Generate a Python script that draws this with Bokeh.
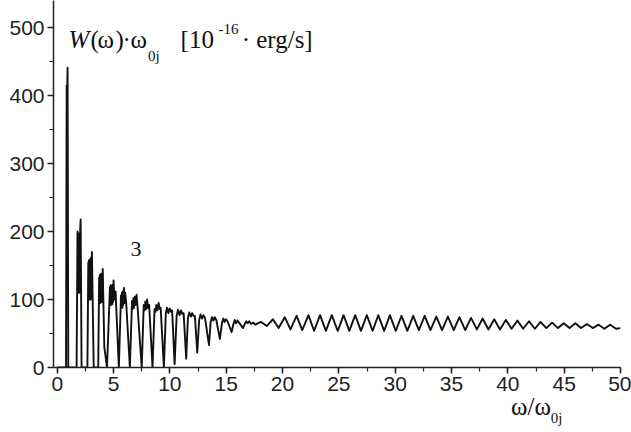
from bokeh.plotting import figure
from bokeh.models import Label, ColumnDataSource, SingleIntervalTicker, Range1d, Div
from bokeh.layouts import column
from bokeh.embed import file_html
from bokeh.resources import INLINE

# ---- data: omega/omega_0j and W(omega)*omega_0j [1e-16 erg/s]
omega_spike = [0.0, 0.78, 0.84, 0.87, 0.92, 0.98, 1.10]
w_spike = [0, 0, 415, 390, 441, 0, 0]

omega_fast = [1.72, 1.80, 1.83, 1.86, 1.89, 1.92, 1.95, 1.98, 2.01, 2.04, 2.08, 2.16, 2.68,
              2.76, 2.79, 2.82, 2.85, 2.88, 2.91, 2.94, 2.97, 3.00, 3.03, 3.08, 3.24, 3.64,
              3.72, 3.75, 3.78, 3.81, 3.84, 3.87, 3.90, 3.93, 3.96, 3.99, 4.04, 4.18, 4.42,
              4.68, 4.71, 4.74, 4.77, 4.80, 4.83, 4.86, 4.89, 4.92, 4.95, 5.00, 5.08, 5.18, 5.47]
w_fast = [0, 200, 110, 196, 112, 192, 110, 198, 112, 204, 218, 0, 0,
          155, 102, 158, 100, 156, 103, 160, 100, 162, 104, 170, 0, 0,
          132, 97, 136, 95, 134, 98, 138, 96, 136, 100, 145, 30, 0,
          118, 94, 121, 92, 120, 95, 119, 93, 122, 96, 128, 100, 112, 0]

omega_bands = [5.66, 5.70, 5.74, 5.78, 5.82, 5.86, 5.92, 5.98, 6.04, 6.12, 6.45,
               6.64, 6.70, 6.76, 6.82, 6.88, 6.96, 7.04, 7.12, 7.50,
               7.68, 7.75, 7.82, 7.90, 7.98, 8.06, 8.16, 8.46,
               8.64, 8.72, 8.80, 8.90, 9.00, 9.10, 9.18, 9.47,
               9.64, 9.74, 9.86, 9.98, 10.10, 10.20, 10.42,
               10.60, 10.72, 10.86, 10.98, 11.10, 11.22, 11.45,
               11.60, 11.72, 11.86, 11.98, 12.10, 12.22, 12.43,
               12.60, 12.72, 12.86, 12.98, 13.12, 13.47,
               13.62, 13.74, 13.86, 13.98, 14.12, 14.44,
               14.62, 14.74, 14.86, 14.98, 15.12, 15.48,
               15.64, 15.76, 15.88, 16.00, 16.14, 16.49,
               16.64, 16.78, 16.90, 17.04, 17.20, 17.40, 17.60, 17.80]
w_bands = [106, 90, 110, 88, 112, 92, 117, 95, 110, 96, 0,
           98, 86, 102, 88, 104, 92, 107, 92, 0,
           92, 84, 97, 86, 100, 88, 92, 0,
           86, 82, 92, 84, 95, 86, 88, 0,
           80, 88, 80, 87, 82, 84, 5,
           76, 85, 77, 84, 79, 80, 13,
           73, 81, 75, 80, 76, 76, 22,
           70, 78, 72, 77, 73, 33,
           67, 74, 69, 74, 70, 42,
           65, 72, 67, 71, 68, 52,
           64, 70, 65, 69, 66, 58,
           64, 68, 65, 68, 64, 66, 63, 65]

omega_tail = [18.10, 18.60, 19.15, 19.65, 20.20, 20.70, 21.25, 21.75, 22.30, 22.80,
              23.33, 23.85, 24.37, 24.90, 25.42, 25.93, 26.45, 26.96, 27.48, 28.00,
              28.50, 29.02, 29.53, 30.05, 30.56, 31.08, 31.60, 32.10, 32.62, 33.13,
              33.65, 34.16, 34.68, 35.20, 35.70, 36.22, 36.73, 37.25, 37.76, 38.28,
              38.79, 39.30, 39.82, 40.33, 40.85, 41.36, 41.88, 42.40, 42.90, 43.42,
              43.93, 44.45, 44.96, 45.48, 45.99, 46.50, 47.02, 47.54, 48.05, 48.57,
              49.08, 49.60, 50.00]
w_tail = [67, 61, 71, 58, 74, 56, 76, 55, 77, 54,
          77, 54, 77, 54, 77, 54, 77, 54, 77, 54,
          77, 54, 77, 54, 76, 54, 76, 55, 76, 55,
          75, 55, 75, 55, 74, 55, 73, 56, 72, 56,
          71, 56, 70, 57, 69, 57, 68, 57, 67, 58,
          66, 58, 65, 58, 65, 58, 64, 58, 63, 57,
          63, 57, 58]

x_ticks_interval = 5
y_ticks_interval = 100

omega = omega_spike + omega_fast + omega_bands + omega_tail
w = w_spike + w_fast + w_bands + w_tail
src = ColumnDataSource(data=dict(omega=omega, w=w))

p = figure(frame_width=567, frame_height=367, min_border_left=53, min_border_right=11,
           min_border_top=0, min_border_bottom=32, title=None,
           x_range=Range1d(-0.33, 50), y_range=Range1d(0, 540),
           output_backend="svg", toolbar_location=None, tools="")
p.outline_line_color = None
p.xgrid.visible = False
p.ygrid.visible = False
p.background_fill_color = "white"
p.border_fill_color = "white"

p.line("omega", "w", source=src, line_color="#111111", line_width=1.9, line_join="round")

p.xaxis.ticker = SingleIntervalTicker(interval=x_ticks_interval, num_minor_ticks=2)
p.yaxis.ticker = SingleIntervalTicker(interval=y_ticks_interval, num_minor_ticks=2)
for ax in (p.xaxis[0], p.yaxis[0]):
    ax.axis_line_color = "#222222"
    ax.axis_line_width = 1.5
    ax.major_tick_line_color = "#222222"
    ax.major_tick_line_width = 1.5
    ax.minor_tick_line_color = "#222222"
    ax.minor_tick_line_width = 1.2
    ax.major_tick_out = 6
    ax.major_tick_in = 0
    ax.minor_tick_out = 4
    ax.minor_tick_in = 0
    ax.major_label_text_font = "Liberation Sans"
    ax.major_label_text_font_size = "21px"
    ax.major_label_text_color = "#222222"
    ax.major_label_standoff = 3

SERIF = "Liberation Serif"

def lab(text, x, y, size="25px", style="normal"):
    p.add_layout(Label(x=x, y=y, text=text, text_font=SERIF, text_font_size=size,
                       text_font_style=style, text_color="#111111",
                       text_baseline="alphabetic", text_align="left"))

# y-axis quantity (inside the plot, top-left)
lab("W", 1.0, 482, style="italic")
lab("(", 2.96, 482)
lab("ω", 3.58, 482)
lab(")", 5.18, 482)
lab("·", 5.80, 482)
lab("ω", 6.51, 482)
lab("0j", 8.05, 459, size="15px")
lab("[10", 10.95, 482)
lab("-16", 14.32, 498, size="15px")
lab("· erg/s]", 16.37, 482)
# curve number
lab("3", 6.51, 175, size="22px")

# x-axis quantity, below the axis
xlab = Div(text='<span style="position:relative;top:-4px;">ω/ω<span style="font-size:15px;'
                'position:relative;top:8px;">0j</span></span>',
           width=120, height=30, margin=(0, 0, 0, 511),
           styles={"font-family": SERIF, "font-size": "25px", "line-height": "24px",
                   "color": "#111111", "white-space": "nowrap"})

layout = column(p, xlab, spacing=0)
open("out.html", "w").write(file_html(layout, INLINE))
